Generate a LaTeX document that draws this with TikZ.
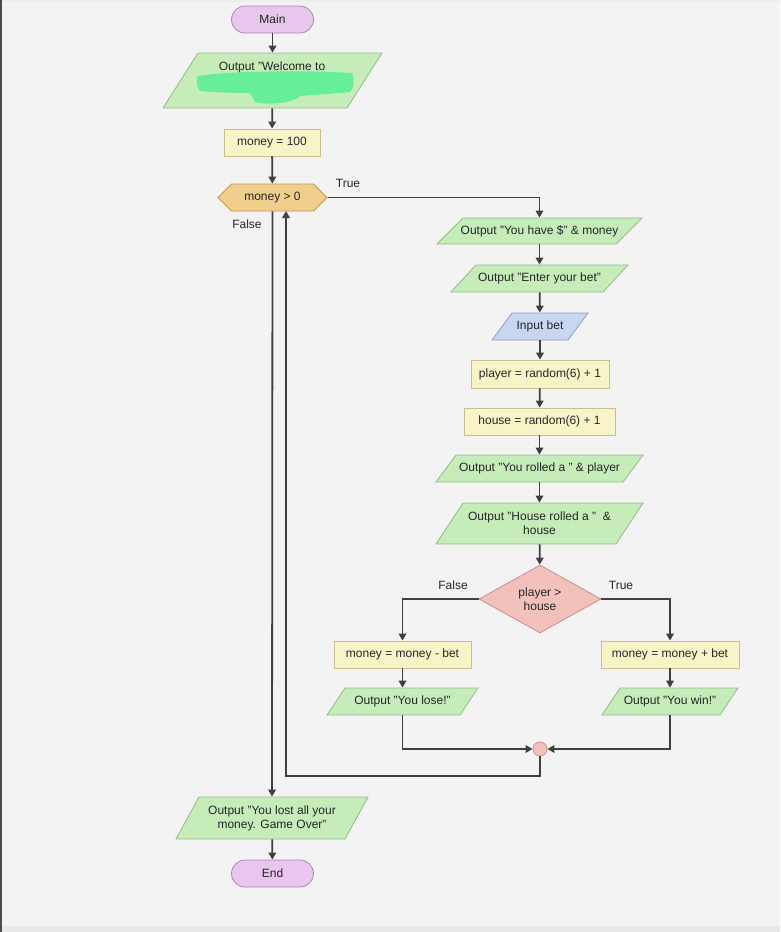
\documentclass[tikz,border=0pt]{standalone}
\usepackage{fontspec}
\setmainfont{Liberation Sans}
\usetikzlibrary{shapes.geometric,shapes.symbols,arrows.meta,calc}
\definecolor{bgc}{HTML}{F3F3F3}
\definecolor{termf}{HTML}{E8C6EE}
\definecolor{termb}{HTML}{A98AAE}
\definecolor{iof}{HTML}{C6ECBA}
\definecolor{iob}{HTML}{90BE86}
\definecolor{inf}{HTML}{C8D6F2}
\definecolor{inb}{HTML}{8D9DC5}
\definecolor{procf}{HTML}{F8F4C8}
\definecolor{procb}{HTML}{C8C08E}
\definecolor{hexf}{HTML}{F0CF8C}
\definecolor{hexb}{HTML}{C49A52}
\definecolor{decf}{HTML}{F3C1BC}
\definecolor{decb}{HTML}{C9908C}
\definecolor{linec}{HTML}{404040}
\definecolor{blob}{HTML}{66EE99}
% parallelogram: name, cx, cy, overall width, height, slant, fill, draw, text
\newcommand\iobox[9]{%
  \filldraw[fill=#7, draw=#8, line width=0.8pt]
    ({#2-#4/2},{#3+#5/2}) -- ({#2+#4/2-#6},{#3+#5/2}) --
    ({#2+#4/2},{#3-#5/2}) -- ({#2-#4/2+#6},{#3-#5/2}) -- cycle;
  \node[base, minimum width={#4-#6}, minimum height=#5] (#1) at (#2,#3) {#9};}
\begin{document}
\begin{tikzpicture}[x=1pt,y=-1pt,
  base/.style={font=\fontsize{12}{14}\selectfont, text=black!85, line width=0.8pt, align=center, inner sep=0pt},
  term/.style={base, rectangle, rounded corners=13.5pt, draw=termb, fill=termf, minimum width=82pt, minimum height=27pt},
  proc/.style={base, rectangle, draw=procb, fill=procf, minimum height=27pt},
  prep/.style={base, signal, signal to=east and west, signal pointer angle=90, draw=hexb, fill=hexf, minimum width=109pt, minimum height=27pt},
  dec/.style={base, diamond, aspect=1.8, draw=decb, fill=decf, minimum width=122pt, minimum height=68pt},
  joint/.style={circle, draw=decb, fill=decf, minimum size=14pt, inner sep=0pt, line width=0.8pt},
  flow/.style={draw=linec, line width=1.8pt, -{Triangle[length=7pt,width=7.5pt]}},
  lbl/.style={font=\fontsize{12}{14}\selectfont, text=black!85, inner sep=0pt}
]
% background
\fill[bgc] (0,0) rectangle (780,932);
\fill[black!9] (0,926) rectangle (780,932);
\fill[black!7] (0,0) rectangle (780,2);
\fill[black!70] (0,0) rectangle (2,932);
\useasboundingbox (0,0) rectangle (780,932);

% nodes
\node[term] (main) at (272.5,19.5) {Main};
\iobox{welcome}{272.5}{80.5}{219}{55}{35}{iof}{iob}{}
\node[lbl] (welcometext) at (272,67) {Output "Welcome to};
\fill[blob] (198,76) .. controls (230,71) and (300,70) .. (352,73)
  .. controls (355,80) and (354,88) .. (350,92)
  .. controls (330,94) and (310,95) .. (300,96)
  .. controls (296,102) and (270,106) .. (255,102)
  .. controls (252,98) and (253,95) .. (250,93)
  .. controls (230,93) and (210,92) .. (200,91)
  .. controls (196,86) and (196,80) .. cycle;
\node[proc, minimum width=96pt] (m100) at (272,142.5) {money = 100};
\node[prep] (cond) at (272.5,197.5) {money > 0};

\iobox{have}{539.5}{231}{205}{26}{26}{iof}{iob}{Output "You have \$" \& money}
\iobox{enter}{539.5}{278.5}{177}{27}{25}{iof}{iob}{Output "Enter your bet"}
\iobox{inbet}{540}{326.5}{96}{27}{20}{inf}{inb}{Input bet}
\node[proc, minimum width=138pt, minimum height=28pt] (player) at (540,374) {player = random(6) + 1};
\node[proc, minimum width=151pt] (house) at (539.5,421.5) {house = random(6) + 1};
\iobox{rolled}{539.5}{468.5}{207}{27}{20}{iof}{iob}{Output "You rolled a " \& player}
\iobox{hrolled}{539.5}{523.5}{207}{41}{27}{iof}{iob}{Output "House rolled a "\ \ \&\\house}
\node[dec] (dia) at (540,599) {player >\\house};

\node[proc, minimum width=137pt] (lose1) at (402.5,654.5) {money = money - bet};
\iobox{lose2}{402.5}{701.5}{151}{27}{18}{iof}{iob}{Output "You lose!"}
\node[proc, minimum width=138pt] (win1) at (670,654.5) {money = money + bet};
\iobox{win2}{670}{701.5}{136}{27}{18}{iof}{iob}{Output "You win!"}
\node[joint] (merge) at (540,749) {};

\iobox{lost}{272}{818}{192}{42}{23}{iof}{iob}{Output "You lost all your\\money. Game Over"}
\node[term] (end) at (272.5,873.5) {End};

% labels
\node[lbl] (ltrue1) at (348,183.5) {True};
\node[lbl] (lfalse1) at (247,224.5) {False};
\node[lbl] (lfalse2) at (453,585.5) {False};
\node[lbl] (ltrue2) at (621,585.5) {True};

\coordinate (loopa) at (540,776);
\coordinate (loopb) at (286,776);
\coordinate (loopc) at (286,211);

% connectors
\draw[flow] (main) -- (welcome);
\draw[flow] (welcome) -- (m100);
\draw[flow] (m100) -- (cond);
\draw[flow] (cond.east) -| (have.north);
\draw[flow] (have) -- (enter);
\draw[flow] (enter) -- (inbet);
\draw[flow] (inbet) -- (player);
\draw[flow] (player) -- (house);
\draw[flow] (house) -- (rolled);
\draw[flow] (rolled) -- (hrolled);
\draw[flow] (hrolled) -- (dia);
\draw[flow] (dia.west) -| (lose1.north);
\draw[flow] (dia.east) -| (win1.north);
\draw[flow] (lose1) -- (lose2);
\draw[flow] (win1) -- (win2);
\draw[flow] (lose2.south) |- (merge.west);
\draw[flow] (win2.south) |- (merge.east);
\draw[flow] (merge.south) -- (loopa) -- (loopb) -- (loopc);
\draw[flow] (cond.south) -- (lost.north);
\draw[flow] (lost) -- (end);
\end{tikzpicture}
\end{document}
